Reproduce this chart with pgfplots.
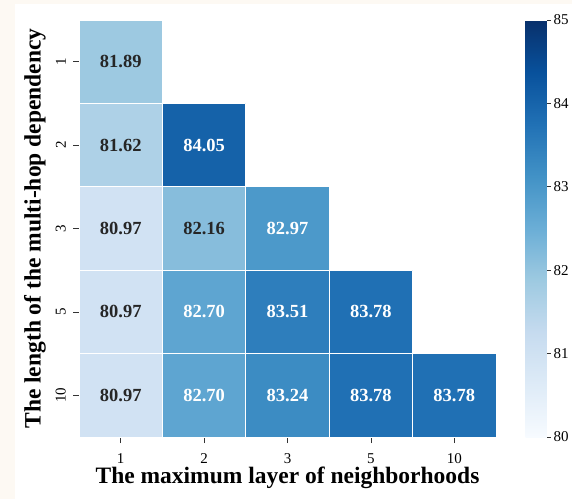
\documentclass[border=0pt]{standalone}
\usepackage{pgfplots}
\pgfplotsset{compat=1.18}
\usepackage{fontspec}
\setmainfont{Liberation Serif}
\definecolor{cream}{RGB}{253,249,243}
\definecolor{darktext}{RGB}{38,38,38}
\pgfplotsset{colormap={blues}{rgb255=(247,251,255) rgb255=(222,235,247) rgb255=(198,219,239) rgb255=(158,202,225) rgb255=(107,174,214) rgb255=(66,146,198) rgb255=(33,113,181) rgb255=(8,81,156) rgb255=(8,48,107)}}
\begin{document}
\begin{tikzpicture}[x=1pt,y=1pt]
\useasboundingbox (0,0) rectangle (572,499);
\fill[cream] (0,0) rectangle (572,499);
\fill[white] (15,0) rectangle (572,495);
\begin{axis}[
  at={(79pt,62pt)}, anchor=south west,
  scale only axis, width=417pt, height=417pt,
  xmin=-0.5, xmax=4.5, ymin=-0.5, ymax=4.5,
  y dir=reverse,
  xtick={0,1,2,3,4}, xticklabels={1,2,3,5,10},
  ytick={0,1,2,3,4}, yticklabels={1,2,3,5,10},
  axis x line*=bottom, axis y line*=left,
  axis line style={draw=none},
  tick align=outside, major tick length=6pt,
  tick style={black!80, line width=0.8pt},
  /pgf/number format/assume math mode=true,
  xticklabel style={font=\fontsize{15}{17}\selectfont, inner sep=0pt, anchor=north, yshift=-10pt},
  yticklabel style={font=\fontsize{15}{17}\selectfont, xshift=-7pt, rotate=90, anchor=south, inner sep=0pt},
  xlabel={The maximum layer of neighborhoods},
  ylabel={The length of the multi-hop dependency},
  every axis x label/.style={at={(axis description cs:0.5,0)}, anchor=center, yshift=-41pt, font=\fontsize{23.5}{26}\selectfont\bfseries},
  every axis y label/.style={at={(axis description cs:0,0.5)}, anchor=center, xshift=-44pt, rotate=90, font=\fontsize{23.5}{26}\selectfont\bfseries},
  colormap name=blues,
  point meta min=80, point meta max=85,
  colorbar,
  colorbar/width=21pt,
  colorbar style={
    at={(parent axis.north east)}, anchor=north west, xshift=21pt,
    scale only axis, width=21pt, height=417pt,
    ytick={80,81,82,83,84,85},
    ytick pos=right, yticklabel pos=right,
    tick align=outside, major tick length=4pt,
    tick style={black!80, line width=0.8pt},
    axis line style={draw=none},
    /pgf/number format/assume math mode=true,
    yticklabel style={font=\fontsize{15}{17}\selectfont, inner sep=0pt, xshift=3pt},
  },
]
\addplot[patch, patch type=rectangle, shader=flat, draw=white, line width=1pt, point meta=explicit]
table[x=x, y=y, meta=c] {
x y c
-0.5 -0.5 81.89
0.5 -0.5 81.89
0.5 0.5 81.89
-0.5 0.5 81.89
-0.5 0.5 81.62
0.5 0.5 81.62
0.5 1.5 81.62
-0.5 1.5 81.62
0.5 0.5 84.05
1.5 0.5 84.05
1.5 1.5 84.05
0.5 1.5 84.05
-0.5 1.5 80.97
0.5 1.5 80.97
0.5 2.5 80.97
-0.5 2.5 80.97
0.5 1.5 82.16
1.5 1.5 82.16
1.5 2.5 82.16
0.5 2.5 82.16
1.5 1.5 82.97
2.5 1.5 82.97
2.5 2.5 82.97
1.5 2.5 82.97
-0.5 2.5 80.97
0.5 2.5 80.97
0.5 3.5 80.97
-0.5 3.5 80.97
0.5 2.5 82.70
1.5 2.5 82.70
1.5 3.5 82.70
0.5 3.5 82.70
1.5 2.5 83.51
2.5 2.5 83.51
2.5 3.5 83.51
1.5 3.5 83.51
2.5 2.5 83.78
3.5 2.5 83.78
3.5 3.5 83.78
2.5 3.5 83.78
-0.5 3.5 80.97
0.5 3.5 80.97
0.5 4.5 80.97
-0.5 4.5 80.97
0.5 3.5 82.70
1.5 3.5 82.70
1.5 4.5 82.70
0.5 4.5 82.70
1.5 3.5 83.24
2.5 3.5 83.24
2.5 4.5 83.24
1.5 4.5 83.24
2.5 3.5 83.78
3.5 3.5 83.78
3.5 4.5 83.78
2.5 4.5 83.78
3.5 3.5 83.78
4.5 3.5 83.78
4.5 4.5 83.78
3.5 4.5 83.78
};
\addplot[only marks, mark=none, point meta=explicit symbolic,
  nodes near coords={\pgfplotspointmeta}, nodes near coords align=center,
  every node near coord/.append style={font=\fontsize{18.5}{20}\selectfont\bfseries, text=darktext, anchor=center}]
table[x=x, y=y, meta=l] {
x y l
0 0 81.89
0 1 81.62
0 2 80.97
1 2 82.16
0 3 80.97
0 4 80.97
};
\addplot[only marks, mark=none, point meta=explicit symbolic,
  nodes near coords={\pgfplotspointmeta}, nodes near coords align=center,
  every node near coord/.append style={font=\fontsize{18.5}{20}\selectfont\bfseries, text=white, anchor=center}]
table[x=x, y=y, meta=l] {
x y l
1 1 84.05
2 2 82.97
1 3 82.70
2 3 83.51
3 3 83.78
1 4 82.70
2 4 83.24
3 4 83.78
4 4 83.78
};
\end{axis}
\end{tikzpicture}
\end{document}
